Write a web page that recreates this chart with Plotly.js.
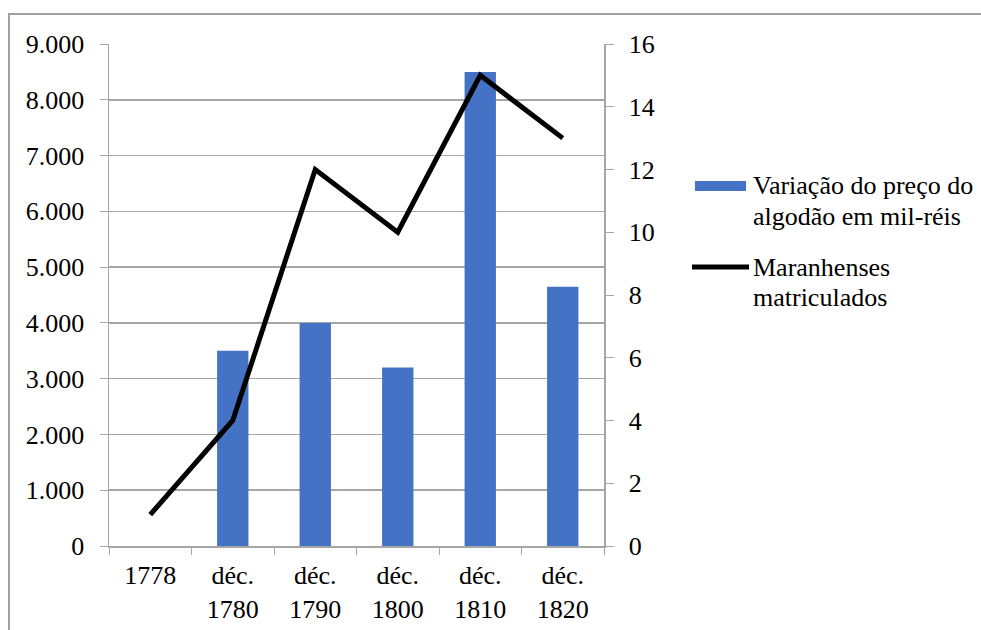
<!DOCTYPE html>
<html>
<head>
<meta charset="utf-8">
<script src="https://cdn.plot.ly/plotly-3.0.1.min.js"></script>
<style>html,body{margin:0;padding:0;background:#fff;}#chart{width:981px;height:630px;}</style>
</head>
<body>
<div id="chart"></div>
<script>
const categories = ["1778", "déc.<br>1780", "déc.<br>1790", "déc.<br>1800", "déc.<br>1810", "déc.<br>1820"];
const precoAlgodao = [null, 3500, 4000, 3200, 8500, 4650];
const matriculados = [1, 4, 12, 10, 15, 13];
const seriesNames = ["Variação do preço do algodão em mil-réis", "Maranhenses matriculados"];
const leftTicks = [0, 1000, 2000, 3000, 4000, 5000, 6000, 7000, 8000, 9000];
const rightTicks = [0, 2, 4, 6, 8, 10, 12, 14, 16];

const W = 981, H = 630;
const L = 109, R = 604, T = 44, B = 546;
const px = v => (v - L) / (R - L);
const py = v => (B - v) / (B - T);
const font = {family: "Liberation Serif", size: 26, color: "#000"};
const grid = "#a6a6a6";

const traces = [
  {type: "bar", x: categories, y: precoAlgodao, name: seriesNames[0],
   marker: {color: "#4472C4"}, width: 0.38, yaxis: "y", hoverinfo: "skip"},
  {type: "scatter", mode: "lines", x: categories, y: matriculados, name: seriesNames[1],
   line: {color: "#000", width: 5}, yaxis: "y2", hoverinfo: "skip"}
];

const layout = {
  width: W, height: H,
  margin: {l: L, r: W - R, t: T, b: H - B, pad: 0},
  paper_bgcolor: "#fff", plot_bgcolor: "#fff",
  separators: ",.",
  showlegend: false,
  font: font,
  xaxis: {type: "category", tickson: "boundaries", ticks: "outside", ticklen: 7, tickcolor: grid,
    showline: true, linecolor: grid, linewidth: 1.5, showgrid: false, tickfont: font,
    fixedrange: true, zeroline: false, ticklabelstandoff: 5},
  yaxis: {range: [0, 9000], tickvals: leftTicks, tickformat: ",d", ticks: "outside", ticklen: 8,
    tickcolor: grid, showline: true, linecolor: grid, linewidth: 1.5, gridcolor: grid, gridwidth: 1.5,
    tickfont: font, zeroline: false, ticklabelstandoff: 10, fixedrange: true},
  yaxis2: {range: [0, 16], tickvals: rightTicks, overlaying: "y", side: "right", ticks: "outside",
    ticklen: 8, tickcolor: grid, showline: true, linecolor: grid, linewidth: 1.5, showgrid: false,
    tickfont: font, zeroline: false, ticklabelstandoff: 10, fixedrange: true},
  shapes: [
    {type: "rect", xref: "paper", yref: "paper", x0: px(9), x1: px(990), y0: py(640), y1: py(14),
     line: {color: "#a0a0a0", width: 2}, fillcolor: "rgba(0,0,0,0)", layer: "below"},
    {type: "rect", xref: "paper", yref: "paper", x0: px(695), x1: px(746), y0: py(191), y1: py(181),
     line: {width: 0}, fillcolor: "#4472C4"},
    {type: "line", xref: "paper", yref: "paper", x0: px(692), x1: px(749), y0: py(267), y1: py(267),
     line: {color: "#000", width: 5}}
  ],
  annotations: [
    ["Variação do preço do", 186], ["algodão em mil-réis", 216],
    ["Maranhenses", 267], ["matriculados", 297]
  ].map(([t, y]) => ({text: t, xref: "paper", yref: "paper", x: px(751), y: py(y),
    xanchor: "left", yanchor: "middle", showarrow: false, font: font}))
};

Plotly.newPlot("chart", traces, layout, {displayModeBar: false, staticPlot: true});
</script>
</body>
</html>
